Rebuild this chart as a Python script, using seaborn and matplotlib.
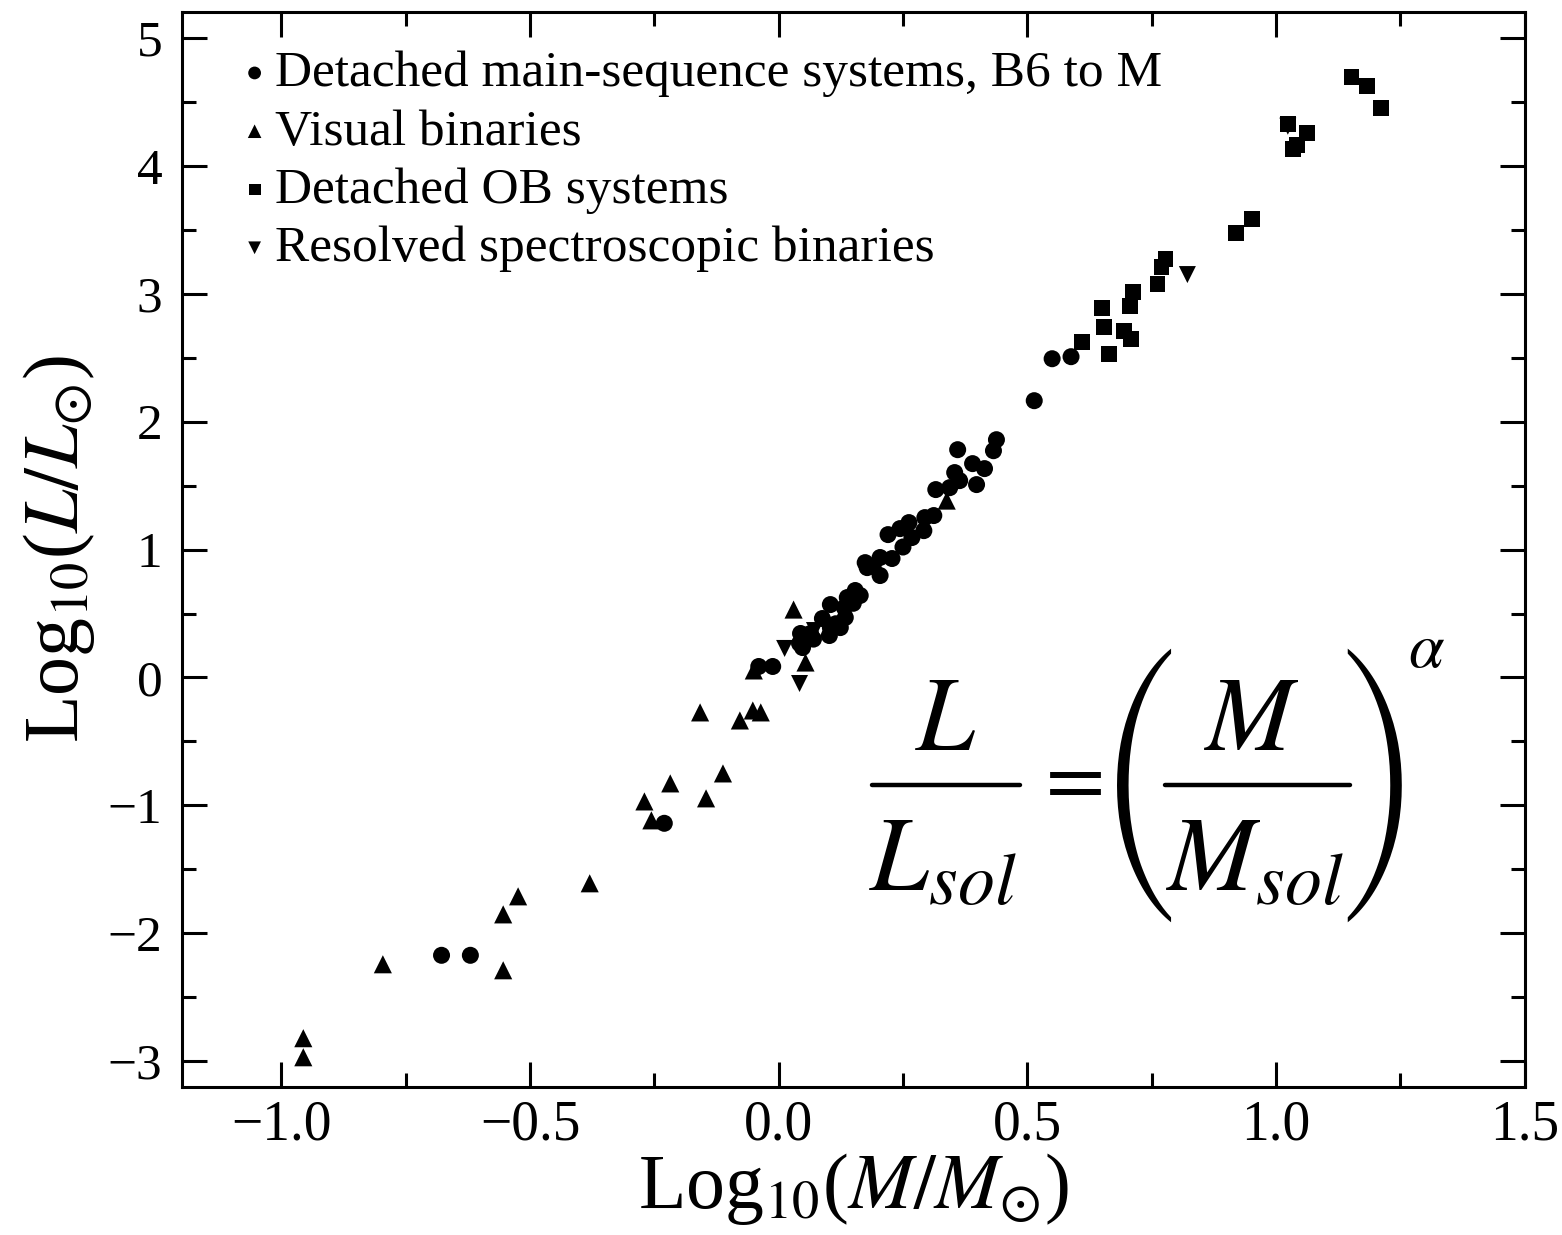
import pandas as pd
import seaborn as sns
import matplotlib.pyplot as plt
from matplotlib.lines import Line2D
from matplotlib.ticker import MultipleLocator

# --- Data (log10 M, log10 L) ---
ms_x = [0.55, 0.588, 0.514, 0.438, 0.432, 0.36, 0.39, 0.414, 0.354, 0.364, 0.398,
        0.344, 0.316, 0.312, 0.294, 0.262, 0.292, 0.22, 0.244, 0.268, 0.228, 0.204,
        0.174, 0.204, 0.178, 0.154, 0.164, 0.138, 0.104, 0.132, 0.134, 0.088, 0.104,
        0.124, 0.102, 0.064, 0.044, 0.042, 0.048, -0.012, -0.04, -0.23, -0.678,
        -0.62, 0.25, 0.19, 0.15, 0.115, 0.07]
ms_y = [2.492, 2.508, 2.164, 1.859, 1.773, 1.781, 1.672, 1.633, 1.602, 1.539, 1.508,
        1.484, 1.469, 1.266, 1.25, 1.211, 1.148, 1.117, 1.164, 1.094, 0.93, 0.938,
        0.898, 0.797, 0.859, 0.68, 0.641, 0.625, 0.57, 0.547, 0.469, 0.461, 0.39,
        0.39, 0.328, 0.344, 0.344, 0.266, 0.234, 0.086, 0.086, -1.14, -2.172,
        -2.172, 1.02, 0.87, 0.58, 0.42, 0.30]

vis_x = [0.338, 0.03, 0.054, -0.05, -0.158, -0.078, -0.052, -0.036, -0.112, -0.218,
         -0.27, -0.146, -0.256, -0.38, -0.524, -0.554, -0.796, -0.554, -0.956, -0.956]
vis_y = [1.383, 0.531, 0.117, 0.055, -0.273, -0.336, -0.258, -0.273, -0.75, -0.828,
         -0.969, -0.945, -1.117, -1.609, -1.711, -1.852, -2.242, -2.289, -2.82, -2.969]

ob_x = [1.152, 1.184, 1.212, 1.024, 1.062, 1.042, 1.034, 0.952, 0.92, 0.778, 0.77,
        0.762, 0.712, 0.706, 0.65, 0.654, 0.694, 0.708, 0.61, 0.664]
ob_y = [4.695, 4.625, 4.453, 4.33, 4.26, 4.164, 4.13, 3.586, 3.477, 3.273, 3.21,
        3.078, 3.016, 2.906, 2.89, 2.742, 2.711, 2.648, 2.625, 2.531]

sb_x = [1.024, 0.822, 0.012, 0.042, 0.072]
sb_y = [4.31, 3.15, 0.227, -0.047, 0.367]

labels = ["Detached main-sequence systems, B6 to M", "Visual binaries",
          "Detached OB systems", "Resolved spectroscopic binaries"]

df = pd.concat([
    pd.DataFrame({"logM": ms_x, "logL": ms_y, "kind": labels[0]}),
    pd.DataFrame({"logM": vis_x, "logL": vis_y, "kind": labels[1]}),
    pd.DataFrame({"logM": ob_x, "logL": ob_y, "kind": labels[2]}),
    pd.DataFrame({"logM": sb_x, "logL": sb_y, "kind": labels[3]}),
], ignore_index=True)

sns.set_style("ticks")
plt.rcParams["font.family"] = ["Liberation Serif", "DejaVu Serif"]
plt.rcParams["mathtext.fontset"] = "stix"
for key in ["text.color", "axes.labelcolor", "xtick.color", "ytick.color", "axes.edgecolor"]:
    plt.rcParams[key] = "black"

W, H = 1562, 1235
fig = plt.figure(figsize=(W / 100, H / 100), dpi=100)
ax = fig.add_axes([0.1165, 0.120, 0.8595, 0.870])

markers = {labels[0]: "o", labels[1]: "^", labels[2]: "s", labels[3]: "v"}
sizes = {labels[0]: 150, labels[1]: 170, labels[2]: 130, labels[3]: 150}
for lab in labels:
    sub = df[df["kind"] == lab]
    sns.scatterplot(data=sub, x="logM", y="logL", marker=markers[lab], s=sizes[lab],
                    color="black", edgecolor="none", linewidth=0, ax=ax, label=lab)

ax.set_xlim(-1.2, 1.5)
ax.set_ylim(-3.2, 5.2)
ax.xaxis.set_major_locator(MultipleLocator(0.5))
ax.xaxis.set_minor_locator(MultipleLocator(0.25))
ax.yaxis.set_major_locator(MultipleLocator(1))
ax.yaxis.set_minor_locator(MultipleLocator(0.5))
ax.xaxis.set_major_formatter(plt.FuncFormatter(lambda v, p: f"{v:.1f}".replace("-", "\u2212")))
ax.yaxis.set_major_formatter(plt.FuncFormatter(lambda v, p: f"{v:.0f}".replace("-", "\u2212")))

ax.tick_params(which="both", direction="in", top=True, right=True, width=2.2)
ax.tick_params(axis="x", which="major", length=18, pad=9, labelsize=40)
ax.tick_params(axis="y", which="major", length=18, pad=14, labelsize=37)
ax.tick_params(which="minor", length=10)
for sp in ax.spines.values():
    sp.set_linewidth(2.2)

ax.set_xlabel(r"Log$_{10}$($M/M_{\odot}$)", fontsize=56, labelpad=0)
ax.set_ylabel(r"Log$_{10}$($L/L_{\odot}$)", fontsize=56, labelpad=8)

h, l = ax.get_legend_handles_labels()
ax.legend(h, l, loc="upper left", bbox_to_anchor=(0.012, 0.998), frameon=False,
          fontsize=37, markerscale=0.75, handletextpad=0.0, labelspacing=0.22,
          handlelength=0.8, borderaxespad=0.3)


# --- Equation L/Lsol = (M/Msol)^alpha, laid out piece by piece (pixel positions) ---
def fx(px):
    return px / W


def fy(py):
    return 1 - py / H


eq = 76
fig.text(fx(946), fy(750), r"$L$", fontsize=eq, ha="center", va="baseline")
fig.text(fx(943), fy(890), r"$L_{sol}$", fontsize=eq, ha="center", va="baseline")
fig.add_artist(Line2D([fx(872), fx(1020)], [fy(785), fy(785)], color="black", lw=3.2))
fig.text(fx(1068), fy(782), r"$=$", fontsize=62, ha="center", va="center")
fig.text(fx(1142), fy(785), "(", fontsize=64, family="STIXSizeFourSym",
         ha="center", va="center")
fig.text(fx(1252), fy(750), r"$M$", fontsize=eq, ha="center", va="baseline")
fig.text(fx(1255), fy(890), r"$M_{sol}$", fontsize=eq, ha="center", va="baseline")
fig.add_artist(Line2D([fx(1165), fx(1350)], [fy(785), fy(785)], color="black", lw=3.2))
fig.text(fx(1376), fy(785), ")", fontsize=64, family="STIXSizeFourSym",
         ha="center", va="center")
fig.text(fx(1427), fy(652), r"$\alpha$", fontsize=46, ha="center", va="center")

fig.savefig("out.png", dpi=100)
